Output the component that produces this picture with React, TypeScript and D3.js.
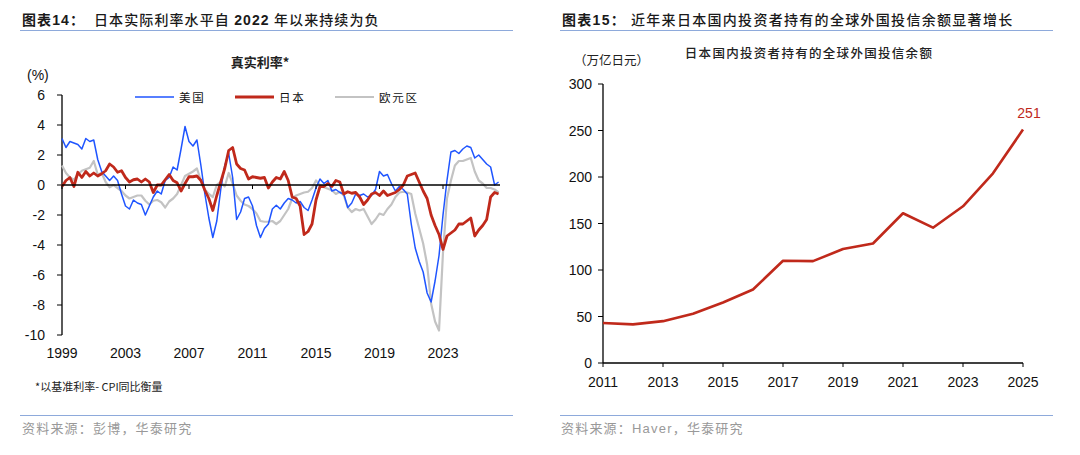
import * as d3 from "d3";

// 真实利率（季度近似），1999 起，每 0.25 年一个点
const START_YEAR = 1999;
const STEP = 0.25;

const usRate = [
  3.1, 2.5, 2.9, 2.8, 2.7, 2.4, 3.1, 2.9, 3.0, 1.7,
  0.9, 0.6, 0.3, 0.6, 0.3, -0.6, -1.4, -1.6, -1.0, -1.2,
  -1.3, -2.0, -1.4, -0.8, -0.4, -0.6, 0.3, 0.5, 1.2, 1.0,
  2.4, 3.9, 2.9, 2.6, 3.0, 1.3, -0.6, -2.2, -3.5, -2.4,
  -0.3, 1.3, 2.1, 0.5, -2.3, -1.8, -0.9, -0.8, -1.4, -2.7,
  -3.5, -2.9, -2.6, -1.6, -1.35, -1.6, -1.2, -0.9, -1.0, -1.2,
  -1.1, -1.5, -1.7, -1.0, -0.2, 0.4, 0.1, 0.3, -0.4, -0.3,
  -0.5, -0.6, -1.5, -1.2, -0.6, -0.7, -0.6, -0.8, -0.7, -0.3,
  0.9, 0.6, 0.7, 0.1, -0.4, -0.1, -0.3, -0.6, -2.6, -4.2,
  -5.1, -5.8, -7.2, -7.8, -6.4, -4.7, -2.0, 0.3, 2.2, 2.3,
  2.1, 2.4, 2.6, 2.5, 1.8, 2.0, 1.7, 1.4, 1.2, 0.0, 0.2,
];

const jpRate = [
  -0.1, 0.3, 0.5, -0.1, 0.85, 0.5, 0.9, 0.6, 0.8, 0.6,
  0.75, 0.95, 1.4, 1.2, 0.85, 0.95, 0.5, 0.2, 0.35, 0.4,
  0.2, 0.4, 0.2, -0.5, 0.0, 0.0, 0.35, 0.7, 0.3, 0.15,
  -0.4, 0.1, 0.55, 0.55, 0.6, 0.3, -0.35, -0.9, -1.7, -0.7,
  0.2, 1.1, 2.3, 2.5, 1.4, 1.1, 1.0, 0.4, 0.55, 0.5,
  0.45, 0.5, -0.2, 0.2, 0.5, 0.4, 0.9, 0.3, -0.8, -0.9,
  -1.4, -3.3, -3.1, -2.6, -1.0, -0.1, -0.1, 0.1, -0.1, 0.3,
  0.2, -0.6, -0.45, -0.55, -0.5, -0.8, -1.3, -1.0, -0.6, -0.5,
  -0.7, -0.4, -0.7, -0.6, -0.5, -0.3, 0.0, 0.6, 0.7, 0.8,
  0.2, -0.4, -0.9, -2.0, -2.7, -3.3, -4.3, -3.4, -3.2, -3.0,
  -2.6, -2.6, -2.4, -2.2, -3.4, -3.0, -2.7, -2.3, -0.8, -0.5, -0.6,
];

const euRate = [
  1.3, 0.8, 0.5, 0.35, 0.7, 0.95, 1.05, 1.15, 1.6, 0.7,
  0.8, 0.2, -0.15, 0.0, -0.2, -0.4, -0.7, -0.9, -0.8, -0.7,
  -0.7, -1.05, -1.3, -1.05, -1.0, -1.15, -1.5, -1.1, -0.9, -0.6,
  0.0, 0.6, 0.75, 0.9, 1.1, 0.3, -0.3, -0.6, -0.8, 0.0,
  0.2, -0.1, 0.8, 0.1, -0.7, -1.05, -1.3, -1.4, -1.6, -1.9,
  -2.4, -2.45, -2.45, -2.4, -2.6, -2.4, -2.0, -1.6, -0.9, -0.7,
  -0.6, -0.5, -0.45, -0.2, 0.3, 0.0, -0.15, -0.25, -0.35, -0.6,
  -0.45, -0.7, -1.5, -1.8, -1.6, -1.7, -1.6, -2.1, -2.6, -2.3,
  -1.9, -2.0, -1.6, -1.3, -0.8, -0.5, -0.45, -0.5, -0.6, -1.9,
  -2.9, -3.9, -5.3, -7.9, -9.1, -9.7, -4.5, -0.9, 0.3, 1.3,
  1.6, 1.6, 1.7, 1.8, 0.9, 0.3, 0.1, -0.2, -0.2, -0.3, -0.5,
];

const leftYTicks = [6, 4, 2, 0, -2, -4, -6, -8, -10];
const leftXTicks = [1999, 2003, 2007, 2011, 2015, 2019, 2023];

// 日本国内投资者持有的全球外国投信余额（万亿日元）
const fundYears = [2011, 2012, 2013, 2014, 2015, 2016, 2017, 2018, 2019, 2020, 2021, 2022, 2023, 2024, 2025];
const fundBalance = [43, 41.5, 45, 53, 65, 79, 110, 109.5, 122.5, 128.5, 161, 145.5, 168.5, 204, 251];
const rightYTicks = [0, 50, 100, 150, 200, 250, 300];
const rightXTicks = [2011, 2013, 2015, 2017, 2019, 2021, 2023, 2025];

const CJK = "'Noto Sans CJK SC', sans-serif";
const NUM = "'Liberation Sans', Arial, sans-serif";
const RULE = "#8eaadb";
const BLUE = "#1f55ff";
const RED = "#c0291b";
const GREY = "#c3c3c3";

const RealRateChart = () => {
  const x = d3.scaleLinear().domain([1999, 2023]).range([62, 443]);
  const y = d3.scaleLinear().domain([-10, 6]).range([335, 95]);

  const line = d3
    .line<number>()
    .x((_, i) => x(START_YEAR + i * STEP))
    .y((d) => y(d));

  const legend = [
    { label: "美国", color: BLUE, w: 1.5, x0: 135 },
    { label: "日本", color: RED, w: 2.8, x0: 235 },
    { label: "欧元区", color: GREY, w: 2.2, x0: 335 },
  ];

  return (
    <g>
      <text x={22} y={25} fontFamily={CJK} fontSize={14} fill="#1a1a1a" letterSpacing={1.1}>
        <tspan fontWeight="bold">图表</tspan>
        <tspan fontWeight="bold" fontFamily={NUM}>14</tspan>
        <tspan fontWeight="bold">：</tspan>
        <tspan x={94} fontWeight={500}>日本实际利率水平自 </tspan>
        <tspan fontWeight="bold" fontFamily={NUM}>2022</tspan>
        <tspan fontWeight={500}> 年以来持续为负</tspan>
      </text>
      <line x1={20} x2={513} y1={30.5} y2={30.5} stroke={RULE} strokeWidth={1} />

      <text x={260} y={67} textAnchor="middle" fontFamily={CJK} fontSize={13} fontWeight="bold" fill="#222">
        真实利率*
      </text>
      <text x={27} y={80} fontFamily={NUM} fontSize={14} fill="#111">
        (%)
      </text>

      {legend.map((l) => (
        <g key={l.label}>
          <line x1={l.x0} x2={l.x0 + 39} y1={97} y2={97} stroke={l.color} strokeWidth={l.w} />
          <text x={l.x0 + 44} y={101.5} fontFamily={CJK} fontSize={11.5} letterSpacing={1.8} fill="#111">
            {l.label}
          </text>
        </g>
      ))}

      {/* y axis */}
      <line x1={62} x2={62} y1={y(6)} y2={y(-10)} stroke="#000" strokeWidth={1.3} />
      {leftYTicks.map((t) => (
        <g key={t}>
          <line x1={57} x2={62} y1={y(t)} y2={y(t)} stroke="#000" strokeWidth={1} />
          <text x={45} y={y(t) + 5} textAnchor="end" fontFamily={NUM} fontSize={14} fill="#111">
            {t}
          </text>
        </g>
      ))}

      {/* lines */}
      <path d={line(euRate) ?? ""} fill="none" stroke={GREY} strokeWidth={2.2} strokeLinejoin="round" />
      <path d={line(usRate) ?? ""} fill="none" stroke={BLUE} strokeWidth={1.5} strokeLinejoin="round" />
      <path d={line(jpRate) ?? ""} fill="none" stroke={RED} strokeWidth={2.8} strokeLinejoin="round" />

      {/* zero line with ticks */}
      <line x1={62} x2={500} y1={y(0)} y2={y(0)} stroke="#000" strokeWidth={1.3} />
      {leftXTicks.map((t) => (
        <g key={t}>
          <line x1={x(t)} x2={x(t)} y1={y(0)} y2={y(0) + 4} stroke="#000" strokeWidth={1} />
          <text x={x(t)} y={358} textAnchor="middle" fontFamily={NUM} fontSize={14} fill="#111">
            {t}
          </text>
        </g>
      ))}

      <text x={35} y={391} fontFamily={CJK} fontSize={11} fill="#222">
        *以基准利率- CPI同比衡量
      </text>
      <line x1={20} x2={513} y1={415.5} y2={415.5} stroke={RULE} strokeWidth={1} />
      <text x={22} y={433} fontFamily={CJK} fontSize={13} letterSpacing={1.2} fill="#999">
        资料来源：彭博，华泰研究
      </text>
    </g>
  );
};

const FundChart = () => {
  const x = d3.scaleLinear().domain([2011, 2025]).range([603, 1023]);
  const y = d3.scaleLinear().domain([0, 300]).range([363, 84]);

  const line = d3
    .line<number>()
    .x((_, i) => x(fundYears[i]))
    .y((d) => y(d));

  const last = fundBalance.length - 1;

  return (
    <g>
      <text x={562} y={25} fontFamily={CJK} fontSize={14} fill="#1a1a1a" letterSpacing={1.3}>
        <tspan fontWeight="bold">图表</tspan>
        <tspan fontWeight="bold" fontFamily={NUM}>15</tspan>
        <tspan fontWeight="bold">：</tspan>
        <tspan x={631} fontWeight={500}>近年来日本国内投资者持有的全球外国投信余额显著增长</tspan>
      </text>
      <line x1={560} x2={1053} y1={30.5} y2={30.5} stroke={RULE} strokeWidth={1} />

      <text x={809} y={58} textAnchor="middle" fontFamily={CJK} fontSize={12.5} fontWeight={500} letterSpacing={1.3} fill="#222">
        日本国内投资者持有的全球外国投信余额
      </text>
      <text x={574} y={65} fontFamily={CJK} fontSize={12.5} fill="#222">
        （万亿日元）
      </text>

      <line x1={603} x2={603} y1={y(300)} y2={y(0)} stroke="#000" strokeWidth={1.3} />
      {rightYTicks.map((t) => (
        <g key={t}>
          <line x1={598} x2={603} y1={y(t)} y2={y(t)} stroke="#000" strokeWidth={1} />
          <text x={592} y={y(t) + 5} textAnchor="end" fontFamily={NUM} fontSize={14} fill="#111">
            {t}
          </text>
        </g>
      ))}

      <line x1={603} x2={1023} y1={y(0)} y2={y(0)} stroke="#000" strokeWidth={1.3} />
      {rightXTicks.map((t) => (
        <g key={t}>
          <line x1={x(t)} x2={x(t)} y1={y(0)} y2={y(0) + 4} stroke="#000" strokeWidth={1} />
          <text x={x(t)} y={387} textAnchor="middle" fontFamily={NUM} fontSize={14} fill="#111">
            {t}
          </text>
        </g>
      ))}

      <path d={line(fundBalance) ?? ""} fill="none" stroke={RED} strokeWidth={2.6} strokeLinejoin="round" />
      <text x={x(fundYears[last]) + 6} y={y(fundBalance[last]) - 12} textAnchor="middle" fontFamily={NUM} fontSize={14} fill={RED}>
        {fundBalance[last]}
      </text>

      <line x1={560} x2={1053} y1={415.5} y2={415.5} stroke={RULE} strokeWidth={1} />
      <text x={561} y={433} fontFamily={CJK} fontSize={13} letterSpacing={1.2} fill="#999">
        资料来源：<tspan fontFamily={NUM}>Haver</tspan>，华泰研究
      </text>
    </g>
  );
};

export default function App() {
  return (
    <svg
      width={1080}
      height={455}
      style={{ position: "absolute", left: 0, top: 0, background: "#fff" }}
    >
      <RealRateChart />
      <FundChart />
    </svg>
  );
}
